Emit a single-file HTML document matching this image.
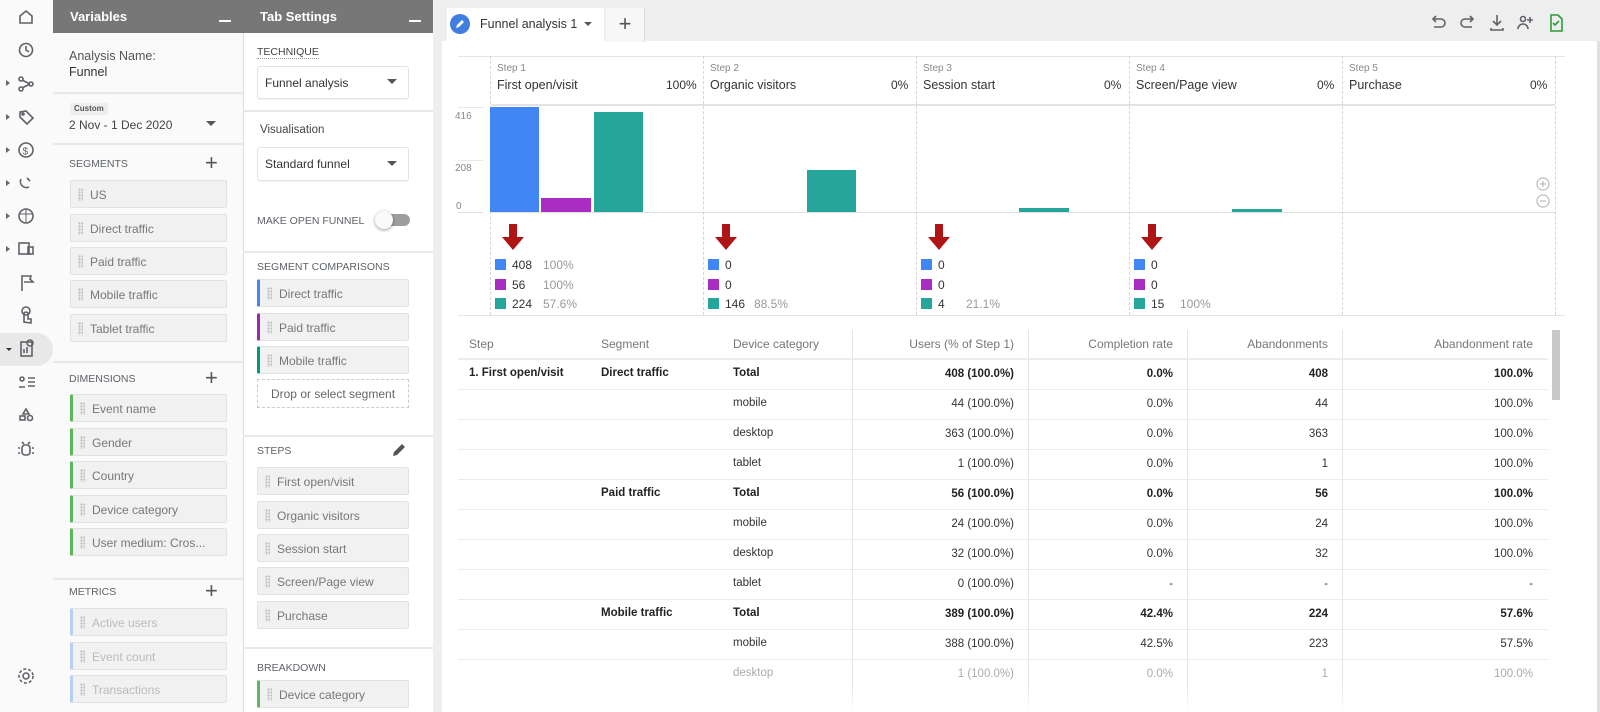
<!DOCTYPE html>
<html><head><meta charset="utf-8"><style>
*{margin:0;padding:0;box-sizing:border-box}
body{width:1600px;height:712px;overflow:hidden;position:relative;background:#eeeeee;font-family:"Liberation Sans",sans-serif;font-size:12px;color:#333}
.a{position:absolute;white-space:nowrap}
.hdr{position:absolute;top:0;height:33px;background:#777;color:#fff;font-weight:bold;font-size:13px;padding:9px 0 0 17px}
.hdr i{position:absolute;right:12px;top:20px;width:12px;height:2px;background:#fff}
.sep{position:absolute;height:2px;background:#e8e8e8}
.lbl{position:absolute;font-size:10.5px;color:#5f6368;letter-spacing:0}
.chip{position:absolute;height:28px;background:#f1f1f1;border:1px solid #e2e2e2;border-radius:2px;color:#777;font-size:12px;padding:7px 0 0 19px}
.chip:before{content:"";position:absolute;left:7px;top:7px;width:5px;height:13px;background-image:radial-gradient(circle,#bbb 1px,transparent 1.2px);background-size:3px 3px}
.plus{position:absolute;font-size:22px;color:#555;line-height:1}
.sel{position:absolute;height:33px;border:1px solid #e3e3e3;border-radius:3px;background:#fff;padding:9px 0 0 7px;font-size:12px;color:#333;box-shadow:0 1px 1px rgba(0,0,0,.05)}
.tri{position:absolute;width:0;height:0;border-left:5px solid transparent;border-right:5px solid transparent;border-top:5px solid #555}
.car{position:absolute;left:6px;width:0;height:0;border-top:3px solid transparent;border-bottom:3px solid transparent;border-left:4px solid #666}
.dv{position:absolute;top:56px;height:259px;border-left:1px dashed #d5d5d5}
.st{position:absolute;top:63px;font-size:10px;color:#888}
.sn{position:absolute;top:78px;font-size:12.5px;color:#333}
.sp{position:absolute;top:78px;font-size:12px;color:#333}
.bar{position:absolute}
.sq{position:absolute;width:11px;height:11px}
.lv{position:absolute;font-size:12px;color:#333}
.lp{position:absolute;font-size:12px;color:#999}
.th{position:absolute;top:337px;color:#777;font-size:12px}
.td{position:absolute;font-size:11.5px;color:#333}
.b{font-weight:bold;color:#222}
.r{text-align:right}
.rl{position:absolute;left:458px;width:1090px;height:1px;background:#ececec}
.vl{position:absolute;top:330px;height:382px;width:1px;background:#e4e4e4}
</style></head><body>
<div class="a" style="left:0;top:0;width:53px;height:712px;background:#fafafa"></div>
<svg class="a" style="left:0;top:0" width="53" height="712" fill="none" stroke="#5f6368" stroke-width="1.6">
<path d="M20 23v-7l6-5 6 5v7z"/>
<circle cx="26" cy="50" r="6.5"/><path d="M26 46v4l3 2"/>
<circle cx="21" cy="79" r="2"/><circle cx="21" cy="89" r="2"/><circle cx="31" cy="84" r="2"/><path d="M22 80l8 4M22 88l8-4"/>
<path d="M20 112l6-1 7 7-6 6-7-7z"/><circle cx="23" cy="114" r="1"/>
<circle cx="26" cy="150" r="7"/><text x="22.5" y="154.5" font-size="10" fill="#5f6368" stroke="none" font-family="Liberation Sans">$</text>
<path d="M21 179a6 6 0 0 0 8 8M27 178l3 3"/>
<circle cx="26" cy="216" r="7"/><path d="M20 214h12M26 209v14" stroke-width="1"/>
<rect x="19" y="243" width="10" height="11"/><rect x="28" y="247" width="5" height="7"/>
<path d="M22 291v-15h9l-1 3 3 3h-9"/>
<path d="M24 322v-8a2 2 0 0 1 4 0v5h3v4z"/><circle cx="26" cy="311" r="4"/>
</svg>
<div class="a" style="left:0;top:333px;width:53px;height:33px;background:#e8e8e8;border-radius:0 17px 17px 0"></div>
<svg class="a" style="left:0;top:333px" width="53" height="33" fill="none" stroke="#5f6368" stroke-width="1.6"><path d="M6 15l3 3 3-3z" fill="#333" stroke="none"/><rect x="21" y="9" width="11" height="14"/><path d="M24 20v-4M27 20v-6"/><circle cx="30" cy="10" r="3"/></svg>
<svg class="a" style="left:0;top:370px" width="53" height="100" fill="none" stroke="#5f6368" stroke-width="1.6">
<circle cx="22" cy="9" r="2"/><path d="M19 17h6M28 8h7M28 12h7M28 16h7"/>
<path d="M26 39l3 5h-6z"/><rect x="20" y="46" width="5" height="4"/><circle cx="30" cy="48" r="2.5"/>
<rect x="22" y="75" width="8" height="10" rx="3"/><path d="M20 78h-2M32 78h2M20 83h-2M32 83h2M24 74l-2-2M28 74l2-2"/>
</svg>
<svg class="a" style="left:16px;top:666px" width="20" height="20" fill="none" stroke="#5f6368" stroke-width="1.6"><circle cx="10" cy="10" r="3"/><circle cx="10" cy="10" r="7" stroke-dasharray="3 2"/></svg>
<div class="car" style="top:80px"></div><div class="car" style="top:114px"></div><div class="car" style="top:147px"></div><div class="car" style="top:180px"></div><div class="car" style="top:213px"></div><div class="car" style="top:246px"></div>

<div class="a" style="left:53px;top:0;width:190px;height:712px;background:#fafafa"></div>
<div class="hdr" style="left:53px;width:190px">Variables<i></i></div>
<div class="a" style="left:69px;top:49px;font-size:12.5px;color:#555">Analysis Name:</div>
<div class="a" style="left:69px;top:65px;font-size:12.5px;color:#333">Funnel</div>
<div class="sep" style="left:53px;top:92px;width:190px"></div>
<div class="a" style="left:70px;top:103px;height:12px;padding:1px 4px;background:#eee;font-size:8px;font-weight:bold;color:#555">Custom</div>
<div class="a" style="left:69px;top:118px;font-size:12px;color:#444">2 Nov - 1 Dec 2020</div>
<div class="tri" style="left:206px;top:121px"></div>
<div class="sep" style="left:53px;top:143px;width:190px"></div>
<div class="lbl" style="left:69px;top:158px">SEGMENTS</div><div class="plus" style="left:205px;top:152px">+</div>
<div class="chip" style="left:70px;top:180px;width:157px">US</div>
<div class="chip" style="left:70px;top:214px;width:157px">Direct traffic</div>
<div class="chip" style="left:70px;top:247px;width:157px">Paid traffic</div>
<div class="chip" style="left:70px;top:280px;width:157px">Mobile traffic</div>
<div class="chip" style="left:70px;top:314px;width:157px">Tablet traffic</div>
<div class="sep" style="left:53px;top:361px;width:190px"></div>
<div class="lbl" style="left:69px;top:373px">DIMENSIONS</div><div class="plus" style="left:205px;top:367px">+</div>
<div class="chip" style="left:70px;top:394px;width:157px;border-left:3px solid #5cb85c">Event name</div>
<div class="chip" style="left:70px;top:428px;width:157px;border-left:3px solid #5cb85c">Gender</div>
<div class="chip" style="left:70px;top:461px;width:157px;border-left:3px solid #5cb85c">Country</div>
<div class="chip" style="left:70px;top:495px;width:157px;border-left:3px solid #5cb85c">Device category</div>
<div class="chip" style="left:70px;top:528px;width:157px;border-left:3px solid #5cb85c">User medium: Cros...</div>
<div class="sep" style="left:53px;top:578px;width:190px"></div>
<div class="lbl" style="left:69px;top:586px">METRICS</div><div class="plus" style="left:205px;top:580px">+</div>
<div class="chip" style="left:70px;top:608px;width:157px;border-left:3px solid #b7cff5;color:#bbb">Active users</div>
<div class="chip" style="left:70px;top:642px;width:157px;border-left:3px solid #b7cff5;color:#bbb">Event count</div>
<div class="chip" style="left:70px;top:675px;width:157px;border-left:3px solid #b7cff5;color:#bbb">Transactions</div>

<div class="a" style="left:243px;top:0;width:190px;height:712px;background:#fff;border-left:1px solid #ddd"></div>
<div class="hdr" style="left:243px;width:190px">Tab Settings<i></i></div>
<div class="lbl" style="left:257px;top:46px;border-bottom:1px dotted #999;color:#444">TECHNIQUE</div>
<div class="sel" style="left:257px;top:66px;width:152px">Funnel analysis</div><div class="tri" style="left:387px;top:79px"></div>
<div class="sep" style="left:243px;top:110px;width:190px"></div>
<div class="a" style="left:260px;top:124px;font-size:11.5px;color:#444">Visualisation</div>
<div class="sel" style="left:257px;top:147px;width:152px;height:34px">Standard funnel</div><div class="tri" style="left:387px;top:161px"></div>
<div class="lbl" style="left:257px;top:215px">MAKE OPEN FUNNEL</div>
<div class="a" style="left:382px;top:214px;width:28px;height:12px;border-radius:6px;background:#9e9e9e"></div>
<div class="a" style="left:375px;top:211px;width:18px;height:18px;border-radius:9px;background:#fafafa;box-shadow:0 1px 3px rgba(0,0,0,.4)"></div>
<div class="sep" style="left:243px;top:251px;width:190px"></div>
<div class="lbl" style="left:257px;top:261px">SEGMENT COMPARISONS</div>
<div class="chip" style="left:257px;top:279px;width:152px;border-left:3px solid #4285f4">Direct traffic</div>
<div class="chip" style="left:257px;top:313px;width:152px;border-left:3px solid #9c27b0">Paid traffic</div>
<div class="chip" style="left:257px;top:346px;width:152px;border-left:3px solid #009688">Mobile traffic</div>
<div class="a" style="left:257px;top:379px;width:152px;height:29px;border:1px dashed #ccc;text-align:center;padding-top:7px;color:#666">Drop or select segment</div>
<div class="sep" style="left:243px;top:435px;width:190px"></div>
<div class="lbl" style="left:257px;top:445px">STEPS</div>
<svg class="a" style="left:391px;top:442px" width="16" height="16"><path d="M2 14l1-4 8-8 3 3-8 8z" fill="#555"/></svg>
<div class="chip" style="left:257px;top:467px;width:152px">First open/visit</div>
<div class="chip" style="left:257px;top:501px;width:152px">Organic visitors</div>
<div class="chip" style="left:257px;top:534px;width:152px">Session start</div>
<div class="chip" style="left:257px;top:567px;width:152px">Screen/Page view</div>
<div class="chip" style="left:257px;top:601px;width:152px">Purchase</div>
<div class="sep" style="left:243px;top:647px;width:190px"></div>
<div class="lbl" style="left:257px;top:662px">BREAKDOWN</div>
<div class="chip" style="left:257px;top:680px;width:152px;border-left:3px solid #5cb85c">Device category</div>

<div class="a" style="left:442px;top:41px;width:1155px;height:671px;background:#fff"></div>
<div class="a" style="left:447px;top:8px;width:157px;height:34px;background:#fff"></div>
<div class="a" style="left:450px;top:14px;width:20px;height:20px;border-radius:10px;background:#3f7de0"></div>
<svg class="a" style="left:454px;top:18px" width="12" height="12"><path d="M2 10l1-3 5-5 2 2-5 5z" fill="#fff"/></svg>
<div class="a" style="left:480px;top:17px;font-size:12.5px;color:#333">Funnel analysis 1</div>
<div class="tri" style="left:584px;top:22px;border-width:4px 4px 0 4px"></div>
<div class="a" style="left:606px;top:8px;width:39px;height:34px;background:#f7f7f7;border-right:1px solid #ddd;font-size:22px;color:#555;text-align:center;line-height:32px">+</div>
<svg class="a" style="left:1428px;top:12px" width="170" height="22" fill="none" stroke="#5f6368" stroke-width="1.6">
<path d="M5 7h8a4 4 0 0 1 0 8H6M8 4L5 7l3 3"/>
<path d="M45 7h-8a4 4 0 0 0 0 8h7M42 4l3 3-3 3"/>
<path d="M69 3v10M65 9l4 4 4-4M63 16v2h12v-2"/>
<circle cx="95" cy="7" r="2.5"/><path d="M90 17a5 5 0 0 1 10 0M102 5v6M99 8h6"/>
<path d="M123 3h7l4 4v12h-11z" stroke="#2e9b3a"/><path d="M125 11l2 2 4-4" stroke="#2e9b3a"/>
</svg>

<div class="a" style="left:458px;top:56px;width:1107px;height:1px;background:#e4e4e4"></div>
<div class="a" style="left:491px;top:104px;width:1064px;height:2px;background:#e4e4e4"></div>
<div class="a" style="left:491px;top:212px;width:1064px;height:1px;background:#e0e0e0"></div>
<div class="a" style="left:458px;top:212px;width:25px;height:1px;background:#e0e0e0"></div>
<div class="a" style="left:458px;top:107px;width:25px;height:1px;background:#e8e8e8"></div>
<div class="a" style="left:458px;top:160px;width:25px;height:1px;background:#e8e8e8"></div>
<div class="a" style="left:455px;top:111px;font-size:10px;color:#888">416</div>
<div class="a" style="left:455px;top:163px;font-size:10px;color:#888">208</div>
<div class="a" style="left:456px;top:201px;font-size:10px;color:#888">0</div>
<div class="dv" style="left:490px"></div><div class="dv" style="left:703px"></div><div class="dv" style="left:916px"></div><div class="dv" style="left:1129px"></div><div class="dv" style="left:1342px"></div><div class="dv" style="left:1555px"></div>
<div class="st" style="left:497px">Step 1</div><div class="sn" style="left:497px">First open/visit</div><div class="sp" style="left:666px">100%</div>
<div class="st" style="left:710px">Step 2</div><div class="sn" style="left:710px">Organic visitors</div><div class="sp" style="left:891px">0%</div>
<div class="st" style="left:923px">Step 3</div><div class="sn" style="left:923px">Session start</div><div class="sp" style="left:1104px">0%</div>
<div class="st" style="left:1136px">Step 4</div><div class="sn" style="left:1136px">Screen/Page view</div><div class="sp" style="left:1317px">0%</div>
<div class="st" style="left:1349px">Step 5</div><div class="sn" style="left:1349px">Purchase</div><div class="sp" style="left:1530px">0%</div>
<div class="bar" style="left:490px;top:107px;width:49px;height:105px;background:#4285f4"></div>
<div class="bar" style="left:541px;top:198px;width:50px;height:14px;background:#a92dc2"></div>
<div class="bar" style="left:594px;top:112px;width:49px;height:100px;background:#26a69a"></div>
<div class="bar" style="left:807px;top:170px;width:49px;height:42px;background:#26a69a"></div>
<div class="bar" style="left:1019px;top:208px;width:50px;height:4px;background:#26a69a"></div>
<div class="bar" style="left:1232px;top:209px;width:50px;height:3px;background:#26a69a"></div>
<svg class="a" style="left:1535px;top:176px" width="16" height="34" fill="none" stroke="#bbb" stroke-width="1.2"><circle cx="8" cy="8" r="6"/><path d="M5 8h6M8 5v6"/><circle cx="8" cy="25" r="6"/><path d="M5 25h6"/></svg>
<svg class="a" style="left:502px;top:224px" width="1000" height="27"><g fill="#b01515">
<path d="M7 0h8v13h7l-11 13L0 13h7z"/><path d="M220 0h8v13h7l-11 13-11-13h7z"/><path d="M433 0h8v13h7l-11 13-11-13h7z"/><path d="M646 0h8v13h7l-11 13-11-13h7z"/></g></svg>
<div class="sq" style="left:495px;top:259px;background:#4285f4"></div><div class="lv" style="left:512px;top:258px">408</div><div class="lp" style="left:543px;top:258px">100%</div>
<div class="sq" style="left:495px;top:279px;background:#a92dc2"></div><div class="lv" style="left:512px;top:278px">56</div><div class="lp" style="left:543px;top:278px">100%</div>
<div class="sq" style="left:495px;top:298px;background:#26a69a"></div><div class="lv" style="left:512px;top:297px">224</div><div class="lp" style="left:543px;top:297px">57.6%</div>
<div class="sq" style="left:708px;top:259px;background:#4285f4"></div><div class="lv" style="left:725px;top:258px">0</div>
<div class="sq" style="left:708px;top:279px;background:#a92dc2"></div><div class="lv" style="left:725px;top:278px">0</div>
<div class="sq" style="left:708px;top:298px;background:#26a69a"></div><div class="lv" style="left:725px;top:297px">146</div><div class="lp" style="left:754px;top:297px">88.5%</div>
<div class="sq" style="left:921px;top:259px;background:#4285f4"></div><div class="lv" style="left:938px;top:258px">0</div>
<div class="sq" style="left:921px;top:279px;background:#a92dc2"></div><div class="lv" style="left:938px;top:278px">0</div>
<div class="sq" style="left:921px;top:298px;background:#26a69a"></div><div class="lv" style="left:938px;top:297px">4</div><div class="lp" style="left:966px;top:297px">21.1%</div>
<div class="sq" style="left:1134px;top:259px;background:#4285f4"></div><div class="lv" style="left:1151px;top:258px">0</div>
<div class="sq" style="left:1134px;top:279px;background:#a92dc2"></div><div class="lv" style="left:1151px;top:278px">0</div>
<div class="sq" style="left:1134px;top:298px;background:#26a69a"></div><div class="lv" style="left:1151px;top:297px">15</div><div class="lp" style="left:1180px;top:297px">100%</div>
<div class="a" style="left:458px;top:315px;width:1107px;height:1px;background:#e4e4e4"></div>

<div class="vl" style="left:852px"></div><div class="vl" style="left:1028px"></div><div class="vl" style="left:1187px"></div><div class="vl" style="left:1342px"></div>
<div class="a" style="left:1552px;top:330px;width:8px;height:70px;background:#c8c8c8"></div>
<div class="th" style="left:469px">Step</div><div class="th" style="left:601px">Segment</div><div class="th" style="left:733px">Device category</div>
<div class="th r" style="left:850px;width:164px">Users (% of Step 1)</div>
<div class="th r" style="left:1030px;width:143px">Completion rate</div>
<div class="th r" style="left:1190px;width:138px">Abandonments</div>
<div class="th r" style="left:1345px;width:188px">Abandonment rate</div>
<div class="rl" style="top:358px;height:2px"></div>
<div class="rl" style="top:389px"></div><div class="rl" style="top:419px"></div><div class="rl" style="top:449px"></div><div class="rl" style="top:479px"></div><div class="rl" style="top:509px"></div><div class="rl" style="top:539px"></div><div class="rl" style="top:569px"></div><div class="rl" style="top:599px"></div><div class="rl" style="top:629px"></div><div class="rl" style="top:659px"></div>

<div class="td b" style="left:469px;top:367px">1. First open/visit</div>
<div class="td b" style="left:601px;top:367px">Direct traffic</div>
<div class="td b" style="left:601px;top:487px">Paid traffic</div>
<div class="td b" style="left:601px;top:607px">Mobile traffic</div>

<div class="td b" style="left:733px;top:367px">Total</div><div class="td b r" style="left:850px;top:368px;width:164px">408 (100.0%)</div><div class="td b r" style="left:1030px;top:368px;width:143px">0.0%</div><div class="td b r" style="left:1190px;top:368px;width:138px">408</div><div class="td b r" style="left:1345px;top:368px;width:188px">100.0%</div>
<div class="td" style="left:733px;top:397px">mobile</div><div class="td r" style="left:850px;top:398px;width:164px">44 (100.0%)</div><div class="td r" style="left:1030px;top:398px;width:143px">0.0%</div><div class="td r" style="left:1190px;top:398px;width:138px">44</div><div class="td r" style="left:1345px;top:398px;width:188px">100.0%</div>
<div class="td" style="left:733px;top:427px">desktop</div><div class="td r" style="left:850px;top:428px;width:164px">363 (100.0%)</div><div class="td r" style="left:1030px;top:428px;width:143px">0.0%</div><div class="td r" style="left:1190px;top:428px;width:138px">363</div><div class="td r" style="left:1345px;top:428px;width:188px">100.0%</div>
<div class="td" style="left:733px;top:457px">tablet</div><div class="td r" style="left:850px;top:458px;width:164px">1 (100.0%)</div><div class="td r" style="left:1030px;top:458px;width:143px">0.0%</div><div class="td r" style="left:1190px;top:458px;width:138px">1</div><div class="td r" style="left:1345px;top:458px;width:188px">100.0%</div>
<div class="td b" style="left:733px;top:487px">Total</div><div class="td b r" style="left:850px;top:488px;width:164px">56 (100.0%)</div><div class="td b r" style="left:1030px;top:488px;width:143px">0.0%</div><div class="td b r" style="left:1190px;top:488px;width:138px">56</div><div class="td b r" style="left:1345px;top:488px;width:188px">100.0%</div>
<div class="td" style="left:733px;top:517px">mobile</div><div class="td r" style="left:850px;top:518px;width:164px">24 (100.0%)</div><div class="td r" style="left:1030px;top:518px;width:143px">0.0%</div><div class="td r" style="left:1190px;top:518px;width:138px">24</div><div class="td r" style="left:1345px;top:518px;width:188px">100.0%</div>
<div class="td" style="left:733px;top:547px">desktop</div><div class="td r" style="left:850px;top:548px;width:164px">32 (100.0%)</div><div class="td r" style="left:1030px;top:548px;width:143px">0.0%</div><div class="td r" style="left:1190px;top:548px;width:138px">32</div><div class="td r" style="left:1345px;top:548px;width:188px">100.0%</div>
<div class="td" style="left:733px;top:577px">tablet</div><div class="td r" style="left:850px;top:578px;width:164px">0 (100.0%)</div><div class="td r" style="left:1030px;top:578px;width:143px">-</div><div class="td r" style="left:1190px;top:578px;width:138px">-</div><div class="td r" style="left:1345px;top:578px;width:188px">-</div>
<div class="td b" style="left:733px;top:607px">Total</div><div class="td b r" style="left:850px;top:608px;width:164px">389 (100.0%)</div><div class="td b r" style="left:1030px;top:608px;width:143px">42.4%</div><div class="td b r" style="left:1190px;top:608px;width:138px">224</div><div class="td b r" style="left:1345px;top:608px;width:188px">57.6%</div>
<div class="td" style="left:733px;top:637px">mobile</div><div class="td r" style="left:850px;top:638px;width:164px">388 (100.0%)</div><div class="td r" style="left:1030px;top:638px;width:143px">42.5%</div><div class="td r" style="left:1190px;top:638px;width:138px">223</div><div class="td r" style="left:1345px;top:638px;width:188px">57.5%</div>
<div class="td" style="left:733px;top:667px;color:#aaa">desktop</div><div class="td r" style="left:850px;top:668px;width:164px;color:#aaa">1 (100.0%)</div><div class="td r" style="left:1030px;top:668px;width:143px;color:#aaa">0.0%</div><div class="td r" style="left:1190px;top:668px;width:138px;color:#aaa">1</div><div class="td r" style="left:1345px;top:668px;width:188px;color:#aaa">100.0%</div>
<div class="a" style="left:442px;top:684px;width:1155px;height:28px;background:linear-gradient(rgba(255,255,255,0),#fff)"></div>
<div class="a" style="left:1597px;top:41px;width:3px;height:671px;background:#e0e0e0"></div>
</body></html>
